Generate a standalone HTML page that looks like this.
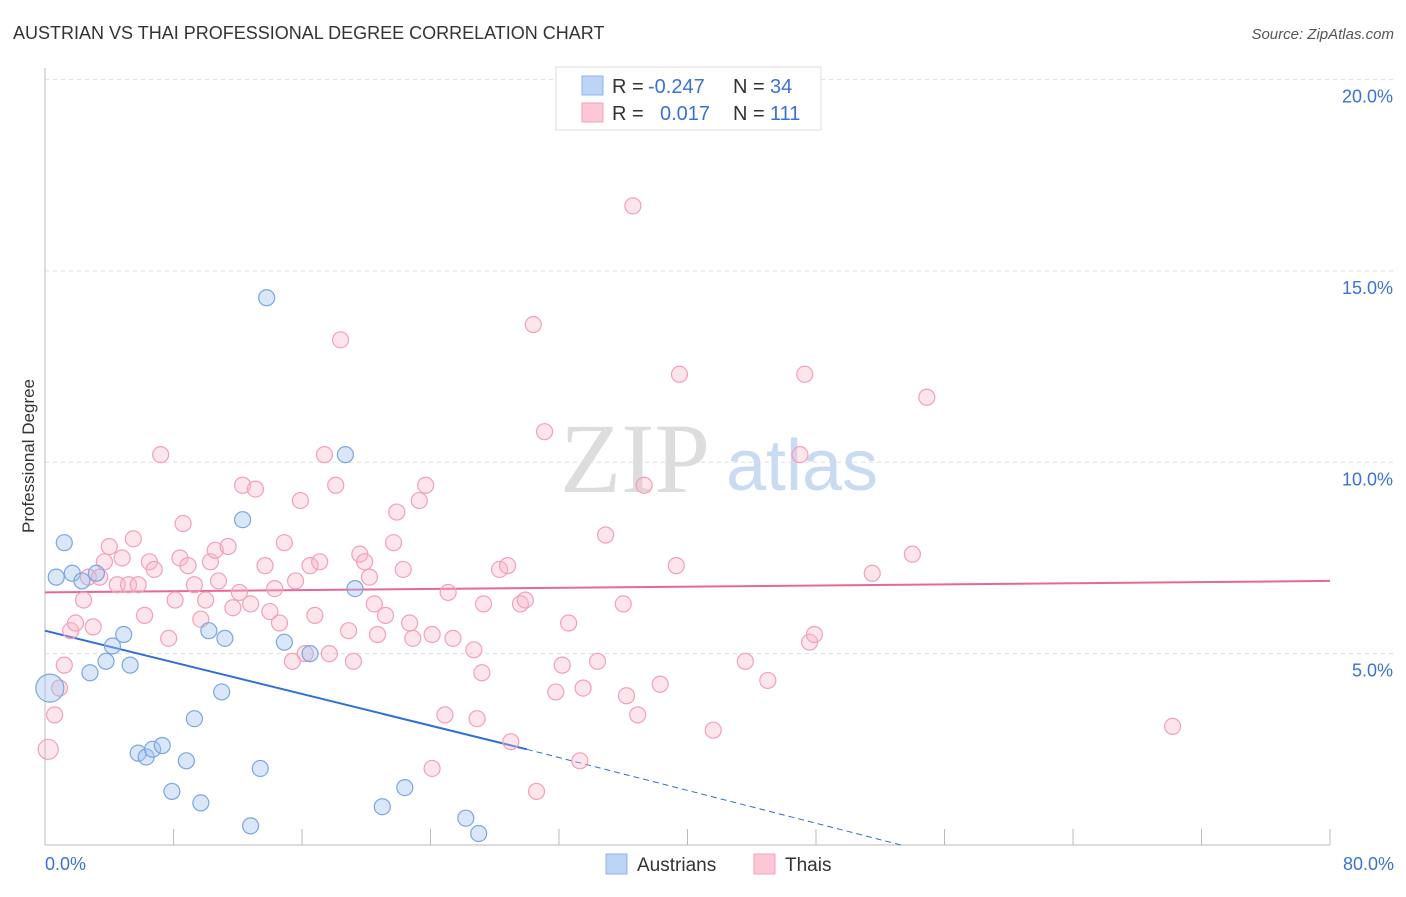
<!DOCTYPE html>
<html><head><meta charset="utf-8">
<style>
body{margin:0;background:#fff;font-family:"Liberation Sans",sans-serif;}
svg text{font-family:"Liberation Sans",sans-serif;}
</style></head>
<body>
<svg id="chart" width="1406" height="892">
<text x="13" y="39" font-size="18" fill="#333">AUSTRIAN VS THAI PROFESSIONAL DEGREE CORRELATION CHART</text>
<text x="1394" y="39" font-size="15" fill="#555" font-style="italic" text-anchor="end">Source: ZipAtlas.com</text>
<text x="34" y="456" font-size="17" fill="#333" text-anchor="middle" transform="rotate(-90 34 456)">Professional Degree</text>
<g>
<text x="635" y="492" font-size="100" fill="#ddd" text-anchor="middle" style="font-family:'Liberation Serif',serif">ZIP</text>
<text x="802" y="490" font-size="72" fill="#c9daf3" text-anchor="middle">atlas</text>
</g>
<g id="grid"></g>
<g id="lines"></g>
<g id="pts"></g>
<g>
<rect x="556" y="67" width="265" height="63" fill="#fff" stroke="#ddd"/>
<rect x="582" y="76" width="21" height="19" fill="#bcd4f6" stroke="#8fb4e8"/>
<rect x="582" y="103" width="21" height="19" fill="#fcc8d6" stroke="#f4a0b8"/>
<text x="612" y="93" font-size="20" fill="#333">R = </text>
<text x="648" y="93" font-size="20" fill="#3a72d4">-0.247</text>
<text x="733" y="93" font-size="20" fill="#333">N = </text>
<text x="770" y="93" font-size="20" fill="#3a72d4">34</text>
<text x="612" y="120" font-size="20" fill="#333">R = </text>
<text x="660" y="120" font-size="20" fill="#3a72d4">0.017</text>
<text x="733" y="120" font-size="20" fill="#333">N = </text>
<text x="770" y="120" font-size="20" fill="#3a72d4">111</text>
</g>
<g>
<rect x="606" y="854" width="21" height="20" fill="#bcd4f6" stroke="#8fb4e8"/>
<text x="637" y="871" font-size="19" fill="#333">Austrians</text>
<rect x="754" y="854" width="21" height="20" fill="#fcc8d6" stroke="#f4a0b8"/>
<text x="785" y="871" font-size="19" fill="#333">Thais</text>
</g>
</svg>
<script>
const xTicks=[0,10,20,30,40,50,60,70,80];
const yTicks=[5,10,15,20];
const blueX=[0.3,1.2,0.7,1.7,2.3,3.2,4.2,4.9,2.8,3.8,5.3,5.8,6.3,6.7,7.3,8.8,7.9,9.7,9.3,10.2,11.2,11.0,12.3,13.4,12.8,13.8,14.9,16.5,18.7,19.3,21.0,22.4,26.2,27.0];
const blueY=[4.1,7.9,7.0,7.1,6.9,7.1,5.2,5.5,4.5,4.8,4.7,2.4,2.3,2.5,2.6,2.2,1.4,1.1,3.3,5.6,5.4,4.0,8.5,2.0,0.5,14.3,5.3,5.0,10.2,6.7,1.0,1.5,0.7,0.3];
const pinkX=[0.2,0.6,0.9,1.2,1.6,1.9,2.4,3.0,2.7,3.4,3.7,4.0,4.5,4.8,5.2,5.5,5.8,6.2,6.5,6.8,7.2,7.7,8.1,8.6,8.4,8.9,9.3,9.7,10.0,10.3,10.6,10.8,11.4,11.7,12.1,12.3,13.1,12.8,13.7,14.0,14.3,14.6,14.9,15.4,15.6,15.9,16.2,16.5,16.8,17.1,17.4,17.7,18.1,18.4,18.9,19.2,19.6,19.9,20.2,20.5,20.7,21.2,21.7,21.9,22.3,22.7,22.9,23.3,23.7,24.1,24.9,25.1,25.4,26.7,26.9,27.2,27.3,28.3,28.8,29.0,29.6,29.9,30.4,30.6,31.1,31.8,32.2,32.6,33.3,33.5,34.4,34.9,36.0,36.2,36.6,36.9,37.3,38.3,39.3,39.5,41.6,43.6,45.0,47.0,47.3,47.6,47.9,51.5,54.0,54.9,70.2,24.1];
const pinkY=[2.5,3.4,4.1,4.7,5.6,5.8,6.4,5.7,7.0,7.0,7.4,7.8,6.8,7.5,6.8,8.0,6.8,6.0,7.4,7.2,10.2,5.4,6.4,8.4,7.5,7.3,6.8,5.9,6.4,7.4,7.7,6.9,7.8,6.2,6.6,9.4,9.3,6.3,7.3,6.1,6.7,5.8,7.9,4.8,6.9,9.0,5.0,7.3,6.0,7.4,10.2,5.0,9.4,13.2,5.6,4.8,7.6,7.4,7.0,6.3,5.5,6.0,7.9,8.7,7.2,5.8,5.4,9.0,9.4,5.5,3.4,6.6,5.4,5.1,3.3,4.5,6.3,7.2,7.3,2.7,6.3,6.4,13.6,1.4,10.8,4.0,4.7,5.8,2.2,4.1,4.8,8.1,6.3,3.9,16.7,3.4,9.4,4.2,7.3,12.3,3.0,4.8,4.3,10.2,12.3,5.3,5.5,7.1,7.6,11.7,3.1,2.0];
const blueLine=[0,5.6,30,2.5,53.3,0];
const pinkLine=[0,6.6,80,6.9];
const X=v=>45+v*16.0625, Y=v=>845-v*38.27;
const NS='http://www.w3.org/2000/svg';
function mk(t,p,a){const e=document.createElementNS(NS,t);for(const k in a)e.setAttribute(k,a[k]);p.appendChild(e);return e;}
const grid=document.getElementById('grid'),lines=document.getElementById('lines'),pts=document.getElementById('pts');
const axX=mk('line',grid,{x1:45,y1:845,x2:1330,y2:845,stroke:'#bbb'});


const axY=mk('line',grid,{x1:45,y1:68,x2:45,y2:845,stroke:'#bbb'});


for(let i=0;i<=10;i++){const t=mk('line',grid,{x1:X(i*8),y1:829,x2:X(i*8),y2:845,stroke:'#bbb'});

}
[[0,'start',45],[80,'end',1394]].forEach(([v,a,x])=>{const t=mk('text',grid,{x:x,y:870,'font-size':18,fill:'#3a72d4','text-anchor':a});t.textContent=v.toFixed(1)+'%';

});
yTicks.forEach(v=>{const g=mk('line',grid,{x1:45,y1:Y(v),x2:1394,y2:Y(v),stroke:'#ddd','stroke-dasharray':'4,4'});


const t=mk('text',grid,{x:1393,y:Y(v)+23,'font-size':18,fill:'#3a72d4','text-anchor':'end'});t.textContent=v.toFixed(1)+'%';

});
pinkX.forEach((x,i)=>{const c=mk('circle',pts,{cx:X(x),cy:Y(pinkY[i]),r:i==0?10:8,fill:'rgba(250,180,200,0.35)',stroke:'#f2a0b8','stroke-width':1.2});

});
blueX.forEach((x,i)=>{const c=mk('circle',pts,{cx:X(x),cy:Y(blueY[i]),r:i==0?14:8,fill:'rgba(160,195,240,0.4)',stroke:'#7aa6e0','stroke-width':1.2});

});
const bl=mk('line',lines,{x1:X(blueLine[0]),y1:Y(blueLine[1]),x2:X(blueLine[2]),y2:Y(blueLine[3]),stroke:'#2f6fd6','stroke-width':2});


const bd=mk('line',lines,{x1:X(blueLine[2]),y1:Y(blueLine[3]),x2:X(blueLine[4]),y2:Y(blueLine[5]),stroke:'#2f6fd6','stroke-width':1,'stroke-dasharray':'6,4'});


const pl=mk('line',lines,{x1:X(pinkLine[0]),y1:Y(pinkLine[1]),x2:X(pinkLine[2]),y2:Y(pinkLine[3]),stroke:'#e8679a','stroke-width':2});


</script>
</body></html>
